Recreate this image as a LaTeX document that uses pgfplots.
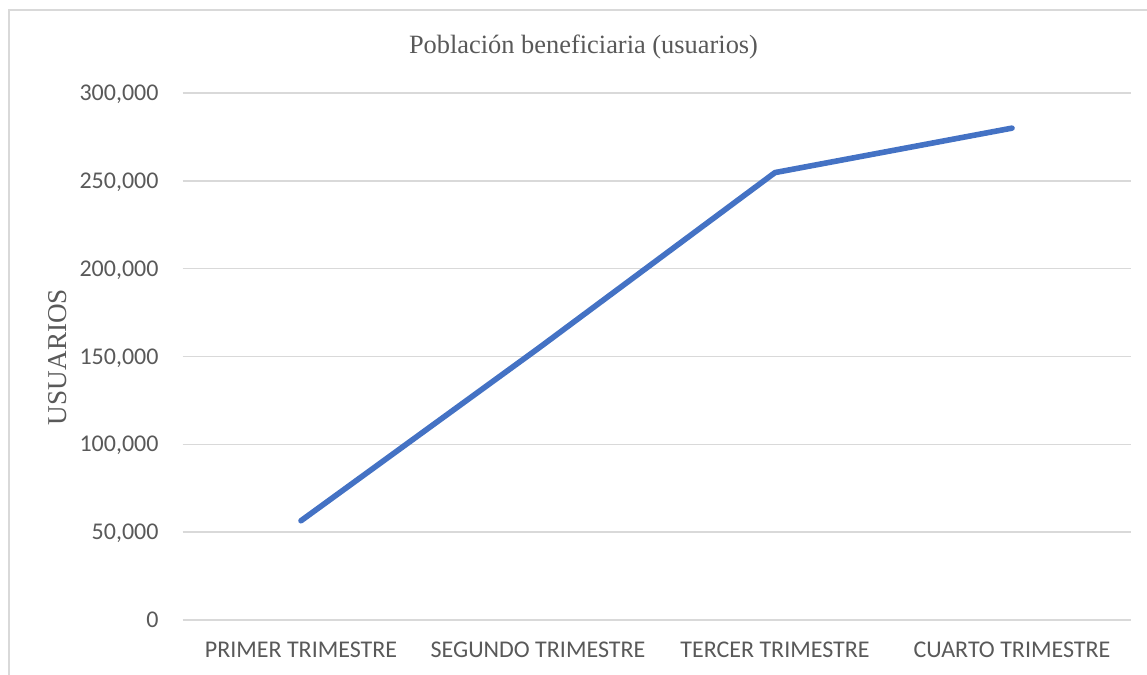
\documentclass[border=0pt]{standalone}
\usepackage{pgfplots}
\pgfplotsset{compat=1.18}
\usepackage{fontspec}
\setmainfont{Carlito}
\newfontfamily\timesfont{Liberation Serif}
\definecolor{txtgray}{HTML}{595959}
\definecolor{gridgray}{HTML}{D9D9D9}
\definecolor{lineblue}{HTML}{4472C4}
\begin{document}
\begin{tikzpicture}
% picture is 1147x675 px at 0.5pt per px
\path[use as bounding box, clip] (0,0) rectangle (573.5pt,337.5pt);
\draw[gridgray, line width=0.8pt] (4.5pt,-20pt) -- (4.5pt,332.5pt) -- (600pt,332.5pt);
\begin{axis}[
  at={(91.25pt,27.5pt)}, anchor=south west,
  scale only axis, width=474pt, height=263.5pt,
  xmin=-0.5, xmax=3.5, ymin=0, ymax=300000,
  xtick={0,1,2,3},
  xticklabels={PRIMER TRIMESTRE,SEGUNDO TRIMESTRE,TERCER TRIMESTRE,CUARTO TRIMESTRE},
  ytick={0,50000,100000,150000,200000,250000,300000},
  scaled y ticks=false,
  /pgf/number format/.cd, fixed, 1000 sep={,}, assume math mode=true, /pgfplots/.cd,
  axis line style={draw=none},
  major tick length=0pt,
  ymajorgrids, grid style={gridgray, line width=0.8pt},
  xticklabel style={font=\fontsize{12}{14}\selectfont, text=txtgray, anchor=base, inner sep=0pt, yshift=-18.9pt},
  yticklabel style={font=\fontsize{12}{14}\selectfont, text=txtgray, anchor=base east, inner sep=0pt, xshift=-11.8pt, yshift=-3.8pt},
  clip=false,
]
\addplot[lineblue, line width=2.8pt, line cap=round, line join=round, mark=none]
  coordinates {(0,56500) (1,154500) (2,254700) (3,280000)};
\end{axis}
\node[font=\timesfont\fontsize{13.2}{15}\selectfont, text=txtgray, anchor=base, inner sep=0pt] at (291.75pt,310.5pt) {Población beneficiaria (usuarios)};
\node[font=\timesfont\fontsize{13.6}{15}\selectfont, text=txtgray, rotate=90, anchor=center, inner sep=0pt] at (28.75pt,159pt) {USUARIOS};
\end{tikzpicture}
\end{document}
